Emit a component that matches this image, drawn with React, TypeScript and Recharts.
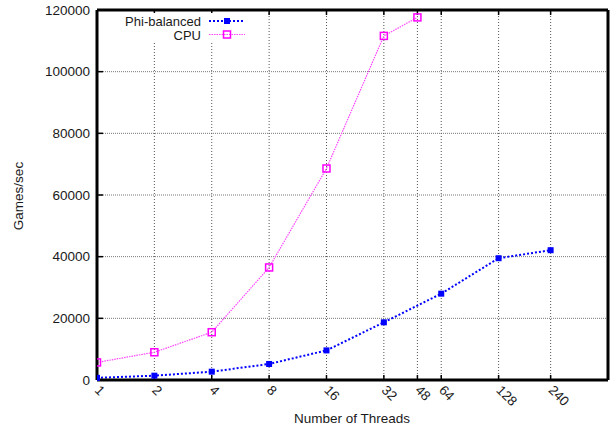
import { LineChart, Line, XAxis, YAxis, CartesianGrid, Legend } from 'recharts'

const THREADS = [1, 2, 4, 8, 16, 32, 48, 64, 128, 240]
const PHI_BALANCED = [700, 1400, 2700, 5200, 9600, 18700, null, 28000, 39500, 42100]
const CPU = [5700, 9000, 15500, 36500, 68600, 111600, 117600, null, null, null]
const Y_TICKS = [0, 20000, 40000, 60000, 80000, 100000, 120000]
const X_DOMAIN = [1, 480]

const data = THREADS.map((threads, i) => ({
  threads,
  phi: PHI_BALANCED[i],
  cpu: CPU[i],
}))

const FONT = '"Liberation Sans", Arial, sans-serif'
const TEXT = '#1a1a1a'
const BLUE = '#0000ff'
const MAGENTA = '#ff00ff'

const PhiDot = (p: any) =>
  p.cy == null ? (
    <g key={p.index} />
  ) : (
    <rect key={p.index} x={p.cx - 3} y={p.cy - 3} width={6} height={6} fill={BLUE} />
  )

const CpuDot = (p: any) =>
  p.cy == null ? (
    <g key={p.index} />
  ) : (
    <rect
      key={p.index}
      x={p.cx - 3.5}
      y={p.cy - 3.5}
      width={7}
      height={7}
      fill="none"
      stroke={MAGENTA}
      strokeWidth={1.5}
    />
  )

const XTick = ({ x, y, payload }: any) => {
  const ax = x - 3
  const ay = y + 11
  return (
    <text
      x={ax}
      y={ay}
      transform={`rotate(45 ${ax} ${ay})`}
      fontSize={13.5}
      fontFamily={FONT}
      fill={TEXT}
      textAnchor="start"
    >
      {payload.value}
    </text>
  )
}

// gnuplot-style opaque key in the top-left corner
const KeyBox = () => (
  <svg width={135} height={29} style={{ display: 'block', background: '#fff' }}>
    <text x={86} y={12.5} fontFamily={FONT} fontSize={13} fill={TEXT} textAnchor="end">
      Phi-balanced
    </text>
    <text x={86} y={26.5} fontFamily={FONT} fontSize={13} fill={TEXT} textAnchor="end">
      CPU
    </text>
    <line x1={94} x2={130} y1={8} y2={8} stroke={BLUE} strokeWidth={2} strokeDasharray="2 2" />
    <rect x={109} y={5} width={6} height={6} fill={BLUE} />
    <line x1={94} x2={130} y1={21.5} y2={21.5} stroke="#ff44ff" strokeWidth={1.2} strokeDasharray="1.5 1" />
    <rect x={108.5} y={18} width={7} height={7} fill="none" stroke={MAGENTA} strokeWidth={1.5} />
  </svg>
)

const border = { stroke: '#000', strokeWidth: 3 }
const tickMark = { stroke: '#000', strokeWidth: 1.5 }

export default function App() {
  return (
    <div style={{ width: 613, height: 428 }}>
      <style>{'body{margin:0}'}</style>
      <LineChart width={613} height={428} data={data} margin={{ top: 0, right: 0, left: 0, bottom: 0 }}>
        <CartesianGrid vertical={false} stroke="#777" strokeDasharray="1 1" />
        <CartesianGrid horizontal={false} stroke="#555" strokeDasharray="1 2" />
        <XAxis
          dataKey="threads"
          type="number"
          scale="log"
          domain={X_DOMAIN}
          allowDataOverflow
          ticks={THREADS}
          interval={0}
          height={48}
          axisLine={border}
          tickLine={tickMark}
          tickSize={-5}
          tickMargin={5}
          tick={<XTick />}
          label={{
            content: () => (
              <text x={352} y={423} textAnchor="middle" fontFamily={FONT} fontSize={13.5} fill={TEXT}>
                Number of Threads
              </text>
            ),
          }}
        />
        <XAxis
          xAxisId="top"
          orientation="top"
          dataKey="threads"
          type="number"
          scale="log"
          domain={X_DOMAIN}
          allowDataOverflow
          ticks={THREADS}
          interval={0}
          height={10}
          axisLine={border}
          tickLine={tickMark}
          tickSize={-5}
          tick={() => <g />}
        />
        <YAxis
          domain={[0, 120000]}
          ticks={Y_TICKS}
          interval={0}
          width={97}
          axisLine={border}
          tickLine={tickMark}
          tickSize={-6}
          tickMargin={13}
          tick={{ fontSize: 13.5, fontFamily: FONT, fill: TEXT }}
          label={{
            content: () => (
              <text
                x={23}
                y={196}
                transform="rotate(-90 23 196)"
                textAnchor="middle"
                fontFamily={FONT}
                fontSize={13.5}
                fill={TEXT}
              >
                Games/sec
              </text>
            ),
          }}
        />
        <YAxis
          yAxisId="right"
          orientation="right"
          domain={[0, 120000]}
          ticks={Y_TICKS}
          interval={0}
          width={5}
          axisLine={border}
          tickLine={tickMark}
          tickSize={-6}
          tick={() => <g />}
        />
        <Legend
          layout="vertical"
          align="center"
          verticalAlign="middle"
          wrapperStyle={{ left: 115, top: 13, width: 135, height: 29 }}
          content={() => <KeyBox />}
        />
        <Line
          type="linear"
          dataKey="phi"
          name="Phi-balanced"
          stroke={BLUE}
          strokeWidth={2}
          strokeDasharray="2 2"
          connectNulls
          dot={PhiDot}
          activeDot={false}
          isAnimationActive={false}
        />
        <Line
          type="linear"
          dataKey="cpu"
          name="CPU"
          stroke="#ff44ff"
          strokeWidth={1.2}
          strokeDasharray="1.5 1"
          dot={CpuDot}
          activeDot={false}
          isAnimationActive={false}
        />
      </LineChart>
    </div>
  )
}
